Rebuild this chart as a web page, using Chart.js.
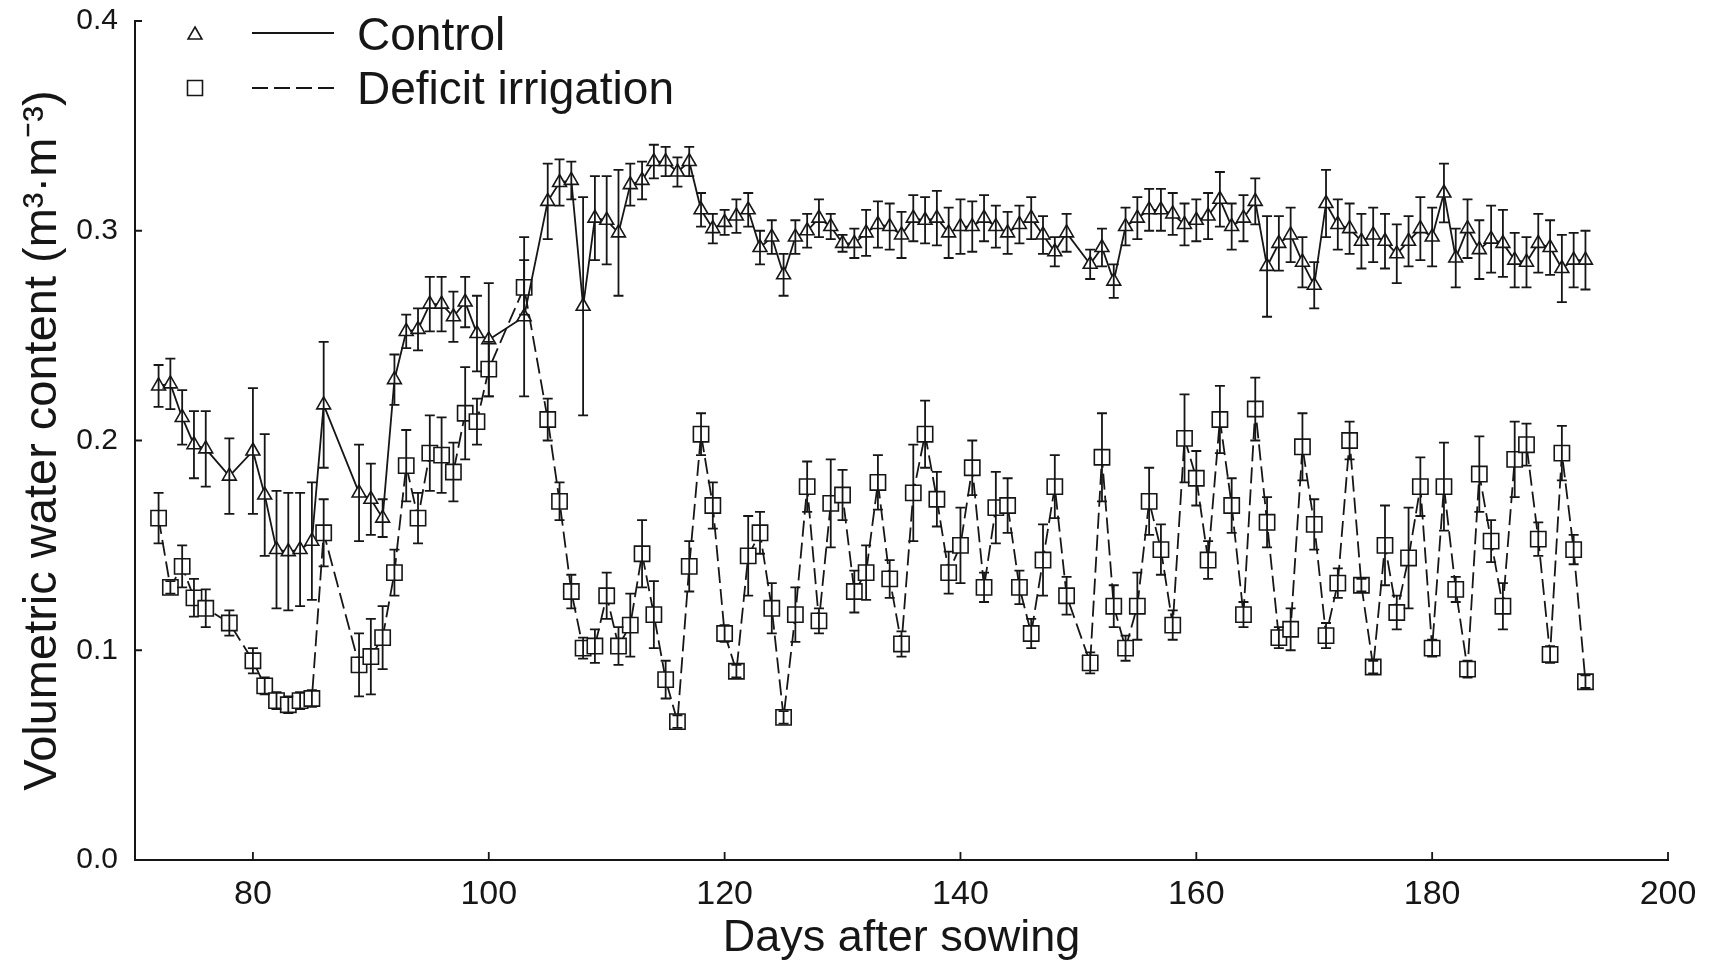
<!DOCTYPE html>
<html>
<head>
<meta charset="utf-8">
<script src="https://cdn.jsdelivr.net/npm/chart.js@4.4.1/dist/chart.umd.min.js"></script>
<style>
  html, body { margin: 0; padding: 0; background: #fff; }
  #wrap { width: 1716px; height: 968px; position: relative; }
</style>
</head>
<body>
<div id="wrap"><canvas id="vwcChart"></canvas></div>
<script>
// days after sowing with a reading (same days for both treatments)
const days = [
    72, 73, 74, 75, 76, 78, 80, 81, 82, 83, 84, 85, 86,
    89, 90, 91, 92, 93, 94, 95, 96, 97, 98, 99, 100, 103,
    105, 106, 107, 108, 109, 110, 111, 112, 113, 114,
    115, 116, 117, 118, 119, 120, 121, 122, 123, 124,
    125, 126, 127, 128, 129, 130, 131, 132, 133, 134,
    135, 136, 137, 138, 139, 140, 141, 142, 143, 144,
    145, 146, 147, 148, 149, 151, 152, 153, 154, 155,
    156, 157, 158, 159, 160, 161, 162, 163, 164, 165,
    166, 167, 168, 169, 170, 171, 172, 173, 174, 175,
    176, 177, 178, 179, 180, 181, 182, 183, 184, 185,
    186, 187, 188, 189, 190, 191, 192, 193
];

const controlVwc = [
    0.226, 0.227, 0.211, 0.198, 0.196, 0.183, 0.195, 0.174, 0.148, 0.147, 0.148, 0.152, 0.217,
    0.175, 0.172, 0.163, 0.229, 0.252, 0.253, 0.265, 0.265, 0.259, 0.266, 0.251, 0.248, 0.259,
    0.314, 0.323, 0.324, 0.264, 0.306, 0.305, 0.299, 0.322, 0.324, 0.333,
    0.333, 0.328, 0.333, 0.310, 0.301, 0.304, 0.307, 0.310, 0.292, 0.297,
    0.279, 0.297, 0.300, 0.306, 0.302, 0.294, 0.294, 0.299, 0.303, 0.302,
    0.298, 0.306, 0.305, 0.306, 0.299, 0.302, 0.302, 0.306, 0.302, 0.299,
    0.303, 0.306, 0.298, 0.290, 0.299, 0.284, 0.292, 0.276, 0.302, 0.306,
    0.310, 0.310, 0.308, 0.303, 0.305, 0.307, 0.315, 0.302, 0.306, 0.314,
    0.283, 0.294, 0.298, 0.285, 0.274, 0.313, 0.303, 0.301, 0.295, 0.298,
    0.295, 0.289, 0.295, 0.301, 0.297, 0.318, 0.287, 0.301, 0.291, 0.296,
    0.294, 0.286, 0.285, 0.294, 0.292, 0.282, 0.286, 0.286
];

const controlErr = [
    0.010, 0.012, 0.013, 0.016, 0.018, 0.018, 0.030, 0.029, 0.028, 0.028, 0.027, 0.028, 0.030,
    0.023, 0.017, 0.009, 0.012, 0.008, 0.010, 0.013, 0.013, 0.012, 0.012, 0.018, 0.027, 0.038,
    0.018, 0.011, 0.009, 0.052, 0.020, 0.021, 0.030, 0.010, 0.009, 0.008,
    0.007, 0.007, 0.007, 0.008, 0.007, 0.006, 0.008, 0.008, 0.008, 0.008,
    0.010, 0.008, 0.008, 0.009, 0.006, 0.004, 0.007, 0.011, 0.011, 0.011,
    0.011, 0.011, 0.011, 0.013, 0.012, 0.013, 0.012, 0.011, 0.010, 0.010,
    0.009, 0.010, 0.009, 0.007, 0.009, 0.007, 0.009, 0.008, 0.009, 0.010,
    0.010, 0.010, 0.010, 0.010, 0.010, 0.011, 0.013, 0.011, 0.011, 0.011,
    0.024, 0.013, 0.013, 0.012, 0.011, 0.016, 0.012, 0.012, 0.013, 0.013,
    0.013, 0.014, 0.012, 0.015, 0.014, 0.014, 0.014, 0.014, 0.014, 0.016,
    0.016, 0.013, 0.012, 0.014, 0.013, 0.016, 0.013, 0.014
];

const deficitVwc = [
    0.163, 0.130, 0.140, 0.125, 0.120, 0.113, 0.095, 0.083, 0.076, 0.074, 0.076, 0.077, 0.156,
    0.093, 0.097, 0.106, 0.137, 0.188, 0.163, 0.194, 0.193, 0.185, 0.213, 0.209, 0.234, 0.273,
    0.210, 0.171, 0.128, 0.101, 0.102, 0.126, 0.102, 0.112, 0.146, 0.117,
    0.086, 0.066, 0.140, 0.203, 0.169, 0.108, 0.090, 0.145, 0.156, 0.120,
    0.068, 0.117, 0.178, 0.114, 0.170, 0.174, 0.128, 0.137, 0.180, 0.134,
    0.103, 0.175, 0.203, 0.172, 0.137, 0.150, 0.187, 0.130, 0.168, 0.169,
    0.130, 0.108, 0.143, 0.178, 0.126, 0.094, 0.192, 0.121, 0.101, 0.121,
    0.171, 0.148, 0.112, 0.201, 0.182, 0.143, 0.210, 0.169, 0.117, 0.215,
    0.161, 0.106, 0.110, 0.197, 0.160, 0.107, 0.132, 0.200, 0.131, 0.092,
    0.150, 0.118, 0.144, 0.178, 0.101, 0.178, 0.129, 0.091, 0.184, 0.152,
    0.121, 0.191, 0.198, 0.153, 0.098, 0.194, 0.148, 0.085
];

const deficitErr = [
    0.012, 0.003, 0.010, 0.009, 0.009, 0.006, 0.006, 0.004, 0.004, 0.004, 0.004, 0.004, 0.016,
    0.015, 0.018, 0.015, 0.011, 0.017, 0.012, 0.018, 0.018, 0.014, 0.022, 0.011, 0.013, 0.013,
    0.010, 0.009, 0.008, 0.005, 0.008, 0.011, 0.009, 0.015, 0.016, 0.016,
    0.009, 0.003, 0.012, 0.010, 0.011, 0.004, 0.003, 0.019, 0.010, 0.012,
    0.003, 0.013, 0.012, 0.006, 0.021, 0.012, 0.010, 0.013, 0.013, 0.009,
    0.006, 0.023, 0.016, 0.013, 0.010, 0.018, 0.013, 0.007, 0.017, 0.013,
    0.008, 0.007, 0.017, 0.015, 0.009, 0.005, 0.021, 0.010, 0.006, 0.016,
    0.016, 0.012, 0.007, 0.021, 0.013, 0.009, 0.016, 0.013, 0.006, 0.015,
    0.012, 0.005, 0.010, 0.016, 0.012, 0.006, 0.007, 0.009, 0.003, 0.003,
    0.019, 0.008, 0.024, 0.014, 0.004, 0.021, 0.006, 0.004, 0.018, 0.010,
    0.011, 0.018, 0.010, 0.008, 0.004, 0.013, 0.007, 0.003
];

const xTickValues = [80, 100, 120, 140, 160, 180, 200];
const yTickValues = [0, 0.1, 0.2, 0.3, 0.4];
const seriesLabels = ['Control', 'Deficit irrigation'];

const ink = '#161616';
const fontFamily = "'Liberation Sans', Arial, Helvetica, sans-serif";
const dashPattern = [16, 6];

function toPoints(vals) {
    return days.map((d, i) => ({ x: d, y: vals[i] }));
}

// open triangle / open square, same shapes as the plot markers
function drawTriangle(ctx, x, y, r) {
    ctx.beginPath();
    for (let k = 0; k < 3; k++) {
        const a = k * 2 * Math.PI / 3;
        const px = x + Math.sin(a) * r, py = y - Math.cos(a) * r;
        if (k === 0) ctx.moveTo(px, py); else ctx.lineTo(px, py);
    }
    ctx.closePath();
    ctx.fill();
    ctx.stroke();
}

function drawSquare(ctx, x, y, half) {
    ctx.beginPath();
    ctx.rect(x - half, y - half, half * 2, half * 2);
    ctx.fill();
    ctx.stroke();
}

// vertical error bars with caps, drawn through the markers like the original
const errorBarPlugin = {
    id: 'errorBars',
    afterDatasetsDraw(chart) {
        const ctx = chart.ctx;
        const xs = chart.scales.x, ys = chart.scales.y;
        ctx.save();
        ctx.strokeStyle = ink;
        ctx.lineWidth = 1.8;
        ctx.setLineDash([]);
        chart.data.datasets.forEach(ds => {
            ds.errors.forEach((e, i) => {
                const pt = ds.data[i];
                const px = xs.getPixelForValue(pt.x);
                const top = ys.getPixelForValue(pt.y + e);
                const bot = ys.getPixelForValue(pt.y - e);
                ctx.beginPath();
                ctx.moveTo(px, top); ctx.lineTo(px, bot);
                ctx.moveTo(px - 5, top); ctx.lineTo(px + 5, top);
                ctx.moveTo(px - 5, bot); ctx.lineTo(px + 5, bot);
                ctx.stroke();
            });
        });
        ctx.restore();
    }
};

// tick marks point inward in the original figure
const innerTicksPlugin = {
    id: 'innerTicks',
    afterDraw(chart) {
        const { ctx, chartArea, scales } = chart;
        ctx.save();
        ctx.strokeStyle = ink;
        ctx.lineWidth = 1.8;
        ctx.beginPath();
        xTickValues.forEach(v => {
            const p = scales.x.getPixelForValue(v);
            ctx.moveTo(p, chartArea.bottom);
            ctx.lineTo(p, chartArea.bottom - 8);
        });
        yTickValues.forEach(v => {
            const p = scales.y.getPixelForValue(v);
            ctx.moveTo(chartArea.left, p);
            ctx.lineTo(chartArea.left + 7, p);
        });
        ctx.stroke();
        ctx.restore();
    }
};

// legend: marker, then line sample, then text (top left)
const cornerLegendPlugin = {
    id: 'cornerLegend',
    afterDraw(chart) {
        const ctx = chart.ctx;
        ctx.save();
        ctx.strokeStyle = ink;
        ctx.fillStyle = '#fff';
        ctx.lineWidth = 1.6;
        drawTriangle(ctx, 195, 35, 8);
        drawSquare(ctx, 195, 88, 7.5);

        ctx.lineWidth = 1.8;
        ctx.beginPath();
        ctx.moveTo(252, 33); ctx.lineTo(334, 33);
        ctx.stroke();
        ctx.setLineDash(dashPattern);
        ctx.beginPath();
        ctx.moveTo(252, 88); ctx.lineTo(334, 88);
        ctx.stroke();
        ctx.setLineDash([]);

        ctx.fillStyle = ink;
        ctx.font = '46px ' + fontFamily;
        ctx.textAlign = 'left';
        ctx.textBaseline = 'alphabetic';
        ctx.fillText(seriesLabels[0], 357, 50);
        ctx.fillText(seriesLabels[1], 357, 104);
        ctx.restore();
    }
};

const ctx = document.getElementById('vwcChart').getContext('2d');

const vwcChart = new Chart(ctx, {
    type: 'line',
    data: {
        datasets: [{
            label: seriesLabels[0],
            data: toPoints(controlVwc),
            errors: controlErr,
            borderColor: ink,
            borderWidth: 1.8,
            tension: 0,
            pointStyle: 'triangle',
            pointRadius: 8,
            pointBorderWidth: 1.6,
            pointBorderColor: ink,
            pointBackgroundColor: '#fff',
            fill: false
        },
        {
            label: seriesLabels[1],
            data: toPoints(deficitVwc),
            errors: deficitErr,
            borderColor: ink,
            borderWidth: 1.8,
            borderDash: dashPattern,
            tension: 0,
            pointStyle: 'rect',
            pointRadius: 10.8,
            pointBorderWidth: 1.6,
            pointBorderColor: ink,
            pointBackgroundColor: '#fff',
            fill: false
        }]
    },
    options: {
        responsive: true,
        maintainAspectRatio: false,
        animation: false,
        layout: { padding: { top: 21, right: 48, bottom: 0, left: 0 } },
        plugins: {
            legend: { display: false },
            tooltip: { enabled: false }
        },
        scales: {
            x: {
                type: 'linear',
                min: 70,
                max: 200,
                afterBuildTicks: scale => { scale.ticks = xTickValues.map(v => ({ value: v })); },
                afterFit: scale => { scale.height = 108; },
                grid: { display: false, drawTicks: false },
                border: { display: true, color: ink, width: 2 },
                ticks: {
                    padding: 14,
                    color: ink,
                    maxRotation: 0,
                    autoSkip: false,
                    font: { family: fontFamily, size: 34 },
                    callback: v => String(v)
                },
                title: {
                    display: true,
                    text: 'Days after sowing',
                    color: ink,
                    font: { family: fontFamily, size: 45 },
                    padding: { top: 0, bottom: 2 }
                }
            },
            y: {
                min: 0,
                max: 0.4,
                afterBuildTicks: scale => { scale.ticks = yTickValues.map(v => ({ value: v })); },
                // fixed width; drop the label overhang so the plot top sits at 0.4 like the original
                afterFit: scale => {
                    scale.width = 135;
                    scale.paddingTop = 0;
                    scale.paddingBottom = 0;
                },
                grid: { display: false, drawTicks: false },
                border: { display: true, color: ink, width: 2 },
                ticks: {
                    padding: 17,
                    color: ink,
                    font: { family: fontFamily, size: 30 },
                    callback: v => Number(v).toFixed(1)
                },
                title: {
                    display: true,
                    text: 'Volumetric water content (m³·m⁻³)',
                    color: ink,
                    font: { family: fontFamily, size: 47 },
                    padding: { top: 15, bottom: 0 }
                }
            }
        }
    },
    plugins: [errorBarPlugin, innerTicksPlugin, cornerLegendPlugin]
});
</script>
</body>
</html>
